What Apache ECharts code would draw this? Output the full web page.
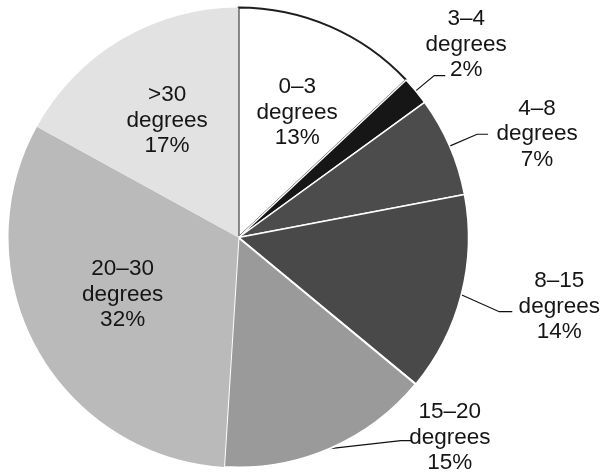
<!DOCTYPE html>
<html>
<head>
<meta charset="utf-8">
<script src="https://cdn.jsdelivr.net/npm/echarts@6/dist/echarts.min.js"></script>
<style>
  html, body { margin: 0; padding: 0; background: #ffffff; }
  #chart { width: 600px; height: 473px; }
</style>
</head>
<body>
<div id="chart"></div>
<script>
// Slope classes and their share of the area (%)
const categories = ['0–3', '3–4', '4–8', '8–15', '15–20', '20–30', '>30'];
const shares = [13, 2, 7, 14, 15, 32, 17];
const unitText = 'degrees';

// Fill colours, one per class
const sliceColors = ['#ffffff', '#161616', '#4c4c4c', '#494949', '#9a9a9a', '#bababa', '#e2e2e2'];

// Pie geometry (px)
const CX = 238.5, CY = 237.5, R = 230;

// Label placement: inside labels sit at a fraction of the radius on the slice bisector
// (plus a small nudge); outside labels hang off a leader line (radial part or a custom
// bend, then a short horizontal part) and are shifted from the leader's end by (dx, dy)
// to the centre of the text block.
const labelPlacement = [
  { inside: true, rf: 0.61, nx: 3, ny: 4 },
  { inside: false, len: 24, len2: 11, dx: 21, dy: -31 },
  { inside: false, len: 30, len2: 11, dx: 49, dy: 0 },
  { inside: false, bend: [38, 17], len2: 13, dx: 47, dy: -5 },
  { inside: false, bend: [71, -8], len2: 11, dx: 38, dy: -3 },
  { inside: true, rf: 0.56, nx: -3, ny: -5 },
  { inside: true, rf: 0.61, nx: 0, ny: 4 }
];

const borderStyle = [
  { borderColor: '#1e1e1e', borderWidth: 2 },
  { borderColor: '#ffffff', borderWidth: 1.5 },
  { borderColor: '#ffffff', borderWidth: 1.5 },
  { borderColor: '#ffffff', borderWidth: 1.5 },
  { borderColor: '#ffffff', borderWidth: 2 },
  { borderWidth: 0 },
  { borderWidth: 0 }
];

// Bisector angle of each slice, measured clockwise from 12 o'clock (radians)
const total = shares.reduce((a, b) => a + b, 0);
const midAngles = [];
{
  let acc = 0;
  shares.forEach(v => {
    midAngles.push(((acc + v / 2) / total) * Math.PI * 2);
    acc += v;
  });
}

const data = categories.map((name, i) => {
  const p = labelPlacement[i];
  return {
    name: name,
    value: shares[i],
    itemStyle: Object.assign({ color: sliceColors[i] }, borderStyle[i]),
    label: { position: p.inside ? 'inside' : 'outside' },
    labelLine: p.inside ? { show: false } : { show: true, length: p.len || 20, length2: p.len2 }
  };
});

const chart = echarts.init(document.getElementById('chart'), null, { renderer: 'canvas' });

chart.setOption({
  animation: false,
  backgroundColor: '#ffffff',
  series: [{
    type: 'pie',
    center: [CX, CY],
    radius: [0, R],
    startAngle: 90,
    clockwise: true,
    avoidLabelOverlap: false,
    silent: true,
    data: data,
    label: {
      show: true,
      formatter: p => p.name + '\n' + unitText + '\n' + p.value + '%',
      fontFamily: 'Liberation Sans, Arial, Helvetica, sans-serif',
      fontSize: 22.5,
      lineHeight: 25.5,
      color: '#151515',
      align: 'center'
    },
    labelLine: {
      lineStyle: { color: '#111111', width: 1.2 },
      smooth: false
    },
    labelLayout: function (params) {
      const i = params.dataIndex;
      const p = labelPlacement[i];
      const a = midAngles[i];
      if (p.inside) {
        return {
          x: CX + R * p.rf * Math.sin(a) + p.nx,
          y: CY - R * p.rf * Math.cos(a) + p.ny,
          align: 'center',
          verticalAlign: 'middle'
        };
      }
      let pts = params.labelLinePoints;
      if (p.bend && pts) {
        const s = pts[0];
        const k = [s[0] + p.bend[0], s[1] + p.bend[1]];
        pts = [s, k, [k[0] + p.len2, k[1]]];
      }
      const end = pts[pts.length - 1];
      return {
        x: end[0] + p.dx,
        y: end[1] + p.dy,
        align: 'center',
        verticalAlign: 'middle',
        labelLinePoints: pts
      };
    }
  }]
});
</script>
</body>
</html>
